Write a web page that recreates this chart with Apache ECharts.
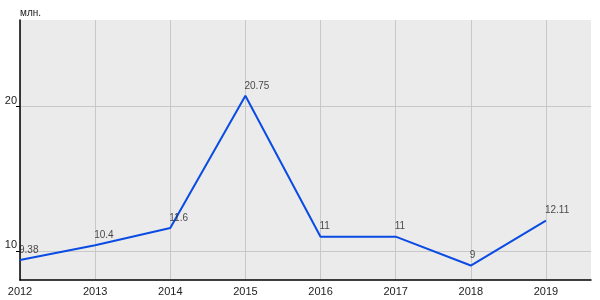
<!DOCTYPE html>
<html><head><meta charset="utf-8">
<script src="https://cdn.jsdelivr.net/npm/echarts@6/dist/echarts.min.js"></script>
<style>html,body{margin:0;padding:0;background:#fff}#c{width:600px;height:300px}</style>
</head><body><div id="c"></div>
<script>
const years = [2012, 2013, 2014, 2015, 2016, 2017, 2018, 2019];
const values = [9.38, 10.4, 11.6, 20.75, 11, 11, 9, 12.11];
const pointLabels = ['9.38', '10.4', '11.6', '20.75', '11', '11', '9', '12.11'];
const yTicks = [10, 20];
const unitLabel = 'млн.';

const chart = echarts.init(document.getElementById('c'), null, {renderer: 'canvas'});
const pts = years.map((y, i) => [y, values[i]]);
chart.setOption({
  animation: false,
  textStyle: {fontFamily: 'Liberation Sans, Arial, sans-serif'},
  grid: {left: 20, right: 9, top: 20, bottom: 20, show: true, backgroundColor: '#ebebeb', borderWidth: 0},
  title: {text: unitLabel, left: 20, top: 8, padding: 0, textStyle: {fontSize: 10, fontWeight: 'normal', color: '#222'}},
  xAxis: {
    type: 'value', min: 2012, max: 2019.6,
    axisLine: {show: true, onZero: false, lineStyle: {color: '#000', width: 1.5}},
    axisTick: {show: false, customValues: years},
    axisLabel: {customValues: years, color: '#222', fontSize: 11, margin: 6, formatter: v => String(v)},
    splitLine: {show: true, lineStyle: {color: '#c8c8c8', width: 1}}
  },
  yAxis: {
    type: 'value', min: 8, max: 26,
    axisLine: {show: true, onZero: false, lineStyle: {color: '#000', width: 1.5}},
    axisTick: {show: true, customValues: yTicks, length: 4, lineStyle: {color: '#000'}},
    axisLabel: {customValues: yTicks, color: '#222', fontSize: 11, margin: 3, verticalAlign: 'bottom', lineHeight: 12},
    splitLine: {show: true, lineStyle: {color: '#c8c8c8', width: 1}}
  },
  series: [{
    type: 'line',
    data: pts,
    symbol: 'none',
    lineStyle: {color: '#0a4be3', width: 2}
  }, {
    type: 'scatter',
    data: pts,
    symbolSize: 2,
    itemStyle: {color: 'rgba(0,0,0,0)'},
    z: 5,
    label: {
      show: true, position: 'top', align: 'left', distance: 4, offset: [-1, 0],
      color: '#1a1a1a', fontSize: 10,
      formatter: p => pointLabels[p.dataIndex]
    }
  }]
});
</script></body></html>
